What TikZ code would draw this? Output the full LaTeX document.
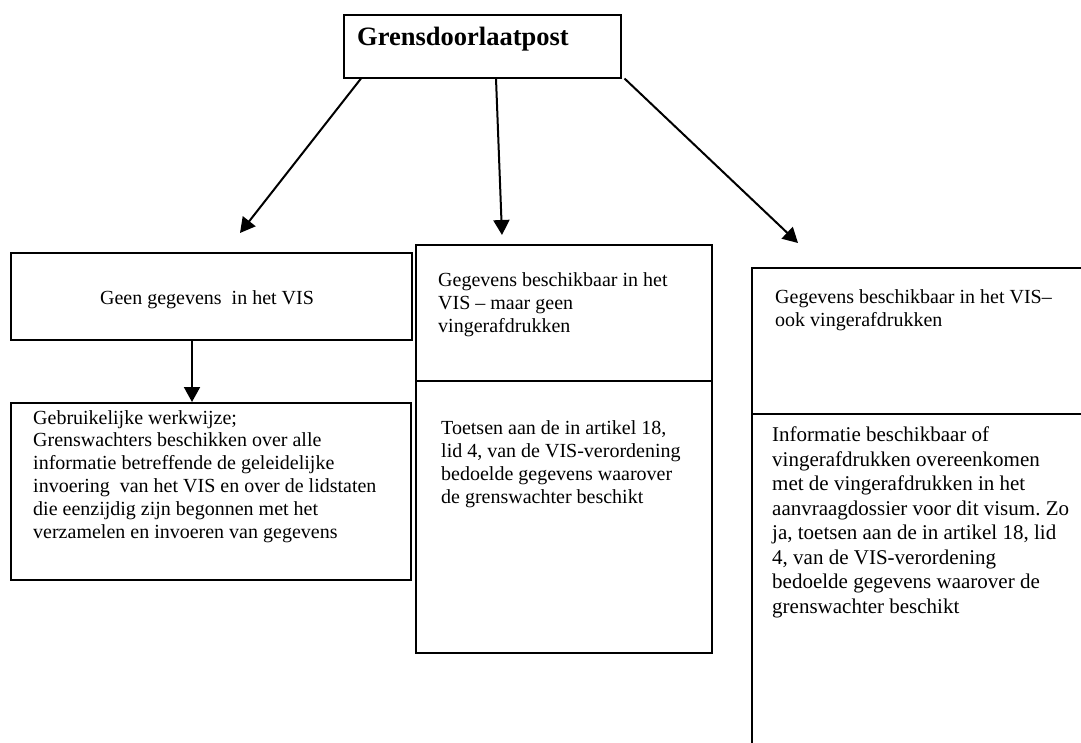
\documentclass[tikz,border=0pt]{standalone}
\usepackage{fontspec}
\setmainfont{Liberation Serif}
\usetikzlibrary{arrows.meta}
\frenchspacing
\begin{document}
\begin{tikzpicture}[x=1pt,y=-1pt,
  box/.style={draw, line width=1.5pt, inner sep=0pt, anchor=north west},
  txt/.style={anchor=north west, inner sep=0pt, align=left, font=\fontsize{20}{23}\selectfont},
  bigtxt/.style={anchor=north west, inner sep=0pt, align=left, font=\fontsize{21}{24.5}\selectfont},
  conn/.style={line width=2pt, -{Triangle[length=15pt,width=16pt]}}]
\useasboundingbox (0,0) rectangle (1081,742);
\clip (0,0) rectangle (1081,742);
\fill[white] (0,0) rectangle (1081,742);

% boxes
\node[box, minimum width=277pt, minimum height=63pt] (top) at (343,14) {};
\node[box, minimum width=401pt, minimum height=87pt] (geen) at (10,252) {};
\node[box, minimum width=400pt, minimum height=177pt] (gebr) at (10,402) {};
\node[box, minimum width=296pt, minimum height=136pt] (midtop) at (415,244) {};
\node[box, minimum width=296pt, minimum height=272pt] (midbot) at (415,380) {};
\node[box, minimum width=345pt, minimum height=146pt] (rtop) at (751,267) {};
\node[box, minimum width=345pt, minimum height=350pt] (rbot) at (751,413) {};

% texts
\node[anchor=base west, inner sep=0pt, font=\bfseries\fontsize{26.5}{30}\selectfont] (ttl) at (357,45) {Grensdoorlaatpost};
\node[anchor=base, inner sep=0pt, font=\fontsize{20}{23}\selectfont] (tgeen) at (207,304) {Geen gegevens\ \ in het VIS};
\node[txt, font=\fontsize{20}{22.8}\selectfont] (tgebr) at (33,410) {Gebruikelijke werkwijze;\\Grenswachters beschikken over alle\\informatie betreffende de geleidelijke\\invoering\ \ van het VIS en over de lidstaten\\die eenzijdig zijn begonnen met het\\verzamelen en invoeren van gegevens};
\node[txt] (tmidtop) at (438,272) {Gegevens beschikbaar in het\\VIS -- maar geen\\vingerafdrukken};
\node[txt] (tmidbot) at (441,420) {Toetsen aan de in artikel 18,\\lid 4, van de VIS-verordening\\bedoelde gegevens waarover\\de grenswachter beschikt};
\node[txt] (trtop) at (775,289) {Gegevens beschikbaar in het VIS--\\ook vingerafdrukken};
\node[bigtxt] (trbot) at (772,427) {Informatie beschikbaar of\\vingerafdrukken overeenkomen\\met de vingerafdrukken in het\\aanvraagdossier voor dit visum. Zo\\ja, toetsen aan de in artikel 18, lid\\4, van de VIS-verordening\\bedoelde gegevens waarover de\\grenswachter beschikt};

% connectors
\coordinate (e1) at (240,233);
\coordinate (e2) at (502,235);
\coordinate (e3) at (798,243);
\coordinate (dx) at (192,0);
\draw[conn] ([xshift=18pt]top.south west) -- (e1);
\draw[conn] ([xshift=153pt]top.south west) -- (e2);
\draw[conn] ([xshift=3pt]top.south east) -- (e3);
\draw[conn] (dx |- geen.south) -- (dx |- gebr.north);
\end{tikzpicture}
\end{document}
